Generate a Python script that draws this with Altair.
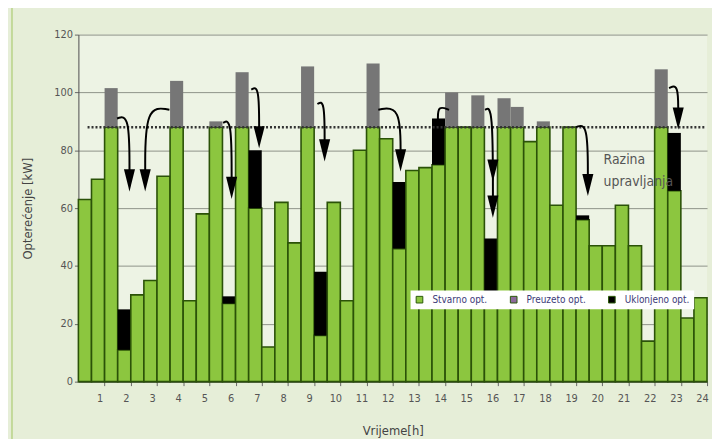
import altair as alt
import pandas as pd

# ---- data (kW, 48 half-hour intervals) ----
stvarno = [63, 70, 88, 11, 30, 35, 71, 88, 28, 58, 88, 27, 88, 60, 12, 62,
           48, 88, 16, 62, 28, 80, 88, 84, 46, 73, 74, 75, 88, 88, 88, 31,
           88, 88, 83, 88, 61, 88, 56, 47, 47, 61, 47, 14, 88, 66, 22, 29]
uklonjeno = [0, 0, 0, 14, 0, 0, 0, 0, 0, 0, 0, 2.5, 0, 20, 0, 0,
             0, 0, 22, 0, 0, 0, 0, 0, 23, 0, 0, 16, 0, 0, 0, 18.5,
             0, 0, 0, 0, 0, 0, 1.5, 0, 0, 0, 0, 0, 0, 20, 0, 0]
iznad = [0, 0, 13.5, 0, 0, 0, 0, 16, 0, 0, 2, 0, 19, 0, 0, 0,
         0, 21, 0, 0, 0, 0, 22, 0, 0, 0, 0, 0, 12, 0, 11, 0,
         10, 7, 0, 2, 0, 0, 0, 0, 0, 0, 0, 0, 20, 0, 0, 0]
razina = 88
hour_ticks = [2.5 + 2 * k for k in range(24)]

# arrows (bar index, kW)
arrow_x0 = [3.45, 7.45, 11.55, 13.7, 18.75, 23.4, 28.8, 31.55, 38.5, 45.6]
arrow_y0 = [91, 94, 89.5, 101, 96, 94, 94, 94, 88, 101.5]
arrow_x1 = [4.4, 5.6, 12.2, 14.3, 19.3, 25.1, 27.95, 32.15, 39.4, 46.3]
arrow_y1 = [72, 72, 69, 86, 82, 78, 90.5, 62, 70, 93]
head_x = [4.4, 5.6, 12.2, 14.3, 19.3, 25.1, 32.15, 32.15, 39.4, 46.3]
head_y = [69.6, 69.6, 67, 84.5, 80, 76.5, 73, 60.5, 68, 91]

labels = ["Stvarno opt.", "Preuzeto opt.", "Uklonjeno opt."]

# ---- tables ----
rows = []
for i, (g, u, v) in enumerate(zip(stvarno, uklonjeno, iznad), start=1):
    rows.append(dict(x0=i - 0.5, x1=i + 0.5, y0=0, y1=g, kind="Stvarno opt."))
    if u > 0:
        rows.append(dict(x0=i - 0.5, x1=i + 0.5, y0=g, y1=g + u, kind="Uklonjeno opt."))
    if v > 0:
        rows.append(dict(x0=i - 0.5, x1=i + 0.5, y0=g, y1=g + v, kind="Iznad razine"))
bars_df = pd.DataFrame(rows)

arr_rows = []
for k, (a, b, c, d) in enumerate(zip(arrow_x0, arrow_y0, arrow_x1, arrow_y1)):
    arr_rows += [dict(id=k, o=0, x=a, y=b), dict(id=k, o=1, x=c, y=b + 1.5),
                 dict(id=k, o=2, x=c, y=d)]
arr_df = pd.DataFrame(arr_rows)
head_df = pd.DataFrame(dict(x=head_x, y=head_y))

FONT = "Liberation Sans Narrow, DejaVu Sans Condensed, Liberation Sans, sans-serif"

xscale = alt.Scale(domain=[0.5, 48.5], nice=False, zero=False)
yscale = alt.Scale(domain=[0, 120], nice=False)
xaxis = alt.Axis(values=hour_ticks, labelExpr="(datum.value - 0.5) / 2",
                 title="Vrijeme[h]", grid=False, labelOffset=-5,
                 labelOverlap=False, labelFlush=False, labelBound=False,
                 tickSize=4, labelPadding=7, titlePadding=21)
yaxis = alt.Axis(values=[0, 20, 40, 60, 80, 100, 120],
                 title="Opterećenje [kW]", tickSize=4, titlePadding=19)


def X(f):
    return alt.X(f, scale=xscale, axis=xaxis)


def Y(f):
    return alt.Y(f, scale=yscale, axis=yaxis)


bars = alt.Chart(bars_df).mark_bar(strokeWidth=1.6).encode(
    x=X("x0:Q"),
    x2="x1:Q",
    y=Y("y0:Q"),
    y2="y1:Q",
    color=alt.Color("kind:N",
                    scale=alt.Scale(domain=labels + ["Iznad razine"],
                                    range=["#8cc63f", "#8c6a9c", "#000000", "#767676"]),
                    legend=alt.Legend(values=labels, title=None, orient="none",
                                      legendX=335, legendY=258, direction="horizontal",
                                      fillColor="white", padding=4, symbolType="square",
                                      symbolSize=45, symbolStrokeColor="#2b5a0a",
                                      symbolStrokeWidth=1, labelFontSize=10,
                                      labelColor="#3b3a78", labelFont=FONT,
                                      columnPadding=20, labelOffset=8)),
    stroke=alt.condition("datum.kind == 'Stvarno opt.'", alt.value("#2b5208"),
                         alt.value("transparent")),
)

thr = alt.Chart(pd.DataFrame(dict(y=[razina], xa=[1.2], xb=[48.4]))).mark_rule(
    strokeDash=[2, 2], strokeWidth=2.5, color="#333333").encode(
    y=Y("y:Q"), x=X("xa:Q"), x2="xb:Q")

lines = alt.Chart(arr_df).mark_line(interpolate="basis", color="black",
                                    strokeWidth=2).encode(
    x=X("x:Q"), y=Y("y:Q"), detail="id:N", order="o:Q")

heads = alt.Chart(head_df).mark_point(shape="M -0.5 -1 L 0.5 -1 L 0 1 Z", filled=True,
                                      size=500, color="black", opacity=1).encode(
    x=X("x:Q"), y=Y("y:Q"))

txt = alt.Chart(pd.DataFrame(dict(x=[40.6, 40.6], y=[76.5, 69.0],
                                  t=["Razina", "upravljanja"]))).mark_text(
    align="left", baseline="middle", fontSize=14, color="#555555", font=FONT).encode(
    x=X("x:Q"), y=Y("y:Q"), text="t:N")

edge = alt.Chart(pd.DataFrame(dict(a=[0]))).mark_rule(color="#c3d99a", strokeWidth=2).encode(
    x=alt.value(-67), y=alt.value(-27), y2=alt.value(410))

chart = alt.layer(bars, edge, thr, lines, heads, txt).properties(
    width=634, height=350,
    padding={"left": 71, "top": 25, "right": 5, "bottom": 56},
    autosize=alt.AutoSizeParams(type="none"),
    background="#e6eed8",
).configure_view(fill="#edf3e4", stroke=None).configure_axis(
    labelFont=FONT, titleFont=FONT, labelFontSize=11, titleFontSize=13,
    labelColor="#555555", titleColor="#444444", titleFontWeight="normal",
    domainColor="#4a4a4a", tickColor="#666666", gridColor="#8e9288", gridWidth=1,
).configure_axisX(labelOverlap=False)

chart.save("out.html", embed_options={"renderer": "svg", "actions": False})
